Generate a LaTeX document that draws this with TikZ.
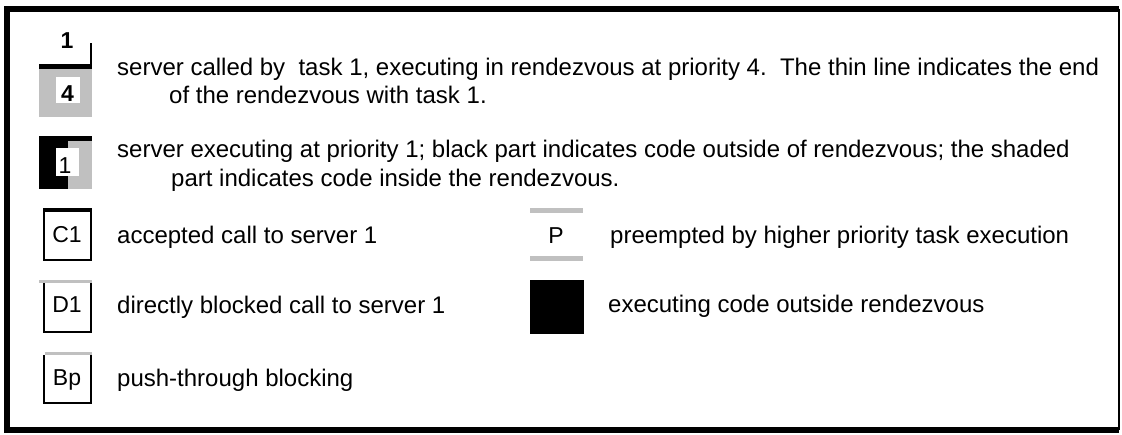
\documentclass[tikz,border=0pt]{standalone}
\usepackage{fontspec}
\setmainfont{Liberation Sans}
\definecolor{lightgrey}{RGB}{192,192,192}
\begin{document}
\begin{tikzpicture}[x=1pt,y=-1pt,
  txt/.style={anchor=base west,inner sep=0pt,font=\fontsize{24}{28}\selectfont},
  lbl/.style={anchor=base,inner sep=0pt,font=\fontsize{23}{26}\selectfont},
  blbl/.style={anchor=base,inner sep=0pt,font=\fontsize{23}{26}\selectfont\bfseries},
  frame/.style={line width=6pt},
  side/.style={line width=2pt}]
\useasboundingbox (0,0) rectangle (1122,434);
% frame
\fill[white] (6,8) rectangle (1119,430);
\draw[frame] (1119,8.5) -- (6.5,8.5) -- (6.5,429.5) -- (1119,429.5);
\draw[side] (1119,8.5) -- (1119,429.5);
% row 1 icon
\node[blbl] (n1) at (67,48) {1};
\draw[side] (91,43) -- (91,66);
\fill[black] (39,64) rectangle (92,69);
\fill[lightgrey] (39,69) rectangle (92,117);
\fill[white] (56,77) rectangle (80,103);
\node[blbl] (n4) at (67.5,101.5) {4};
\node[txt] (t1a) at (117,75) {server called by\ \ task 1, executing in rendezvous at priority 4.\ \ The thin line indicates the end};
\node[txt] (t1b) at (169,103) {of the rendezvous with task 1.};
% row 2 icon
\fill[black] (39,136) rectangle (92,141);
\fill[black] (39,141) rectangle (68,189);
\fill[lightgrey] (68,141) rectangle (92,189);
\fill[white] (56,148) rectangle (79,176);
\node[lbl] (n1b) at (65,173) {1};
\node[txt] (t2a) at (117,157) {server executing at priority 1; black part indicates code outside of rendezvous; the shaded};
\node[txt] (t2b) at (171,186) {part indicates code inside the rendezvous.};
% C1
\draw[side] (44,210) -- (44,260) -- (91,260) -- (91,210);
\fill[black] (43,208) rectangle (92,212);
\node[lbl] (c1) at (67,242) {C1};
\node[txt] (t3) at (117,243) {accepted call to server 1};
% D1
\fill[lightgrey] (39,280) rectangle (92,283);
\draw[side] (44,283) -- (44,332) -- (91,332) -- (91,283);
\node[lbl] (d1) at (67,312) {D1};
\node[txt] (t4) at (117,313) {directly blocked call to server 1};
% Bp
\fill[lightgrey] (45,352) rectangle (92,355);
\draw[side] (44,355) -- (44,403) -- (91,403) -- (91,355);
\node[lbl] (bp) at (67,385) {Bp};
\node[txt] (t5) at (117,386) {push-through blocking};
% P
\fill[lightgrey] (530,208) rectangle (583,213);
\node[lbl] (p) at (556,243) {P};
\fill[lightgrey] (530,256) rectangle (583,261);
\node[txt] (t6) at (610,243) {preempted by higher priority task execution};
% black square
\fill[black] (530,280) rectangle (584,334);
\node[txt] (t7) at (608,312) {executing code outside rendezvous};
\end{tikzpicture}
\end{document}
